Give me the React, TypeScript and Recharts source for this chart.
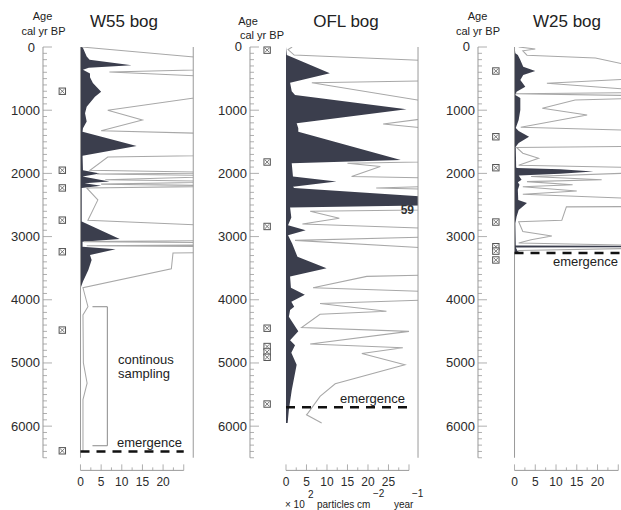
import { Area, ComposedChart, Line, ReferenceDot, ReferenceLine, XAxis, YAxis } from "recharts";

const FONT = "'Liberation Sans', Arial, Helvetica, sans-serif";
const AGE_MAX = 6700; // plot bottom, where the concentration axis sits
const AGE_AXIS_END = 6500;
const AGE_TICKS = Array.from({ length: 66 }, (_, i) => i * 100);
const CONC_TICKS_25 = [0, 2.5, 5, 7.5, 10, 12.5, 15, 17.5, 20, 22.5, 25];
const CONC_TICKS_30 = [...CONC_TICKS_25, 27.5, 30];

type Sample = [number, number]; // [age cal yr BP, x10^2 particles cm-2 yr-1]

// W55 bog
const W55_CHARCOAL: Sample[] = [
  [0, 0.5], [150, 1.5], [200, 2.2], [290, 12.4], [330, 2], [360, 0.6], [420, 2.3], [480, 2.3],
  [570, 3], [707, 5], [786, 3.5], [945, 1.5], [1050, 1.1], [1180, 1.5], [1285, 0.6], [1340, 0.5],
  [1567, 13.6], [1720, 0.5], [1950, 0.6], [2000, 4.7], [2050, 0.5], [2130, 7], [2155, 1], [2195, 5],
  [2230, 0.3], [2760, 0.3], [3040, 9.5], [3080, 0.5], [3160, 0.5], [3200, 8.5], [3290, 2.3],
  [3370, 2.7], [3530, 1.9], [3710, 0.6], [3800, 0.1], [6400, 0.1],
];
const W55_EXAGGERATED: Sample[] = [
  [0, 0.3], [160, 28], [300, 60], [330, 50], [395, 7], [520, 50], [600, 50], [1000, 6.6],
  [1155, 15], [1325, 5], [1400, 50], [1700, 50], [1740, 6.6], [1950, 2.3], [1990, 40], [2010, 4],
  [2040, 40], [2100, 6], [2130, 40], [2170, 5], [2200, 40], [2230, 1.5], [2420, 4.2], [2740, 1.8],
  [2850, 40], [3060, 40], [3080, 0.8], [3100, 40], [3130, 40], [3145, 1.5], [3160, 40], [3250, 40],
  [3260, 22.4], [3510, 22], [3810, 0.6], [4110, 1.8], [4240, 0.6], [5000, 0.7], [5320, 1.6],
  [5580, 0.6], [6400, 0.6],
];
const W55_DATES = [700, 1950, 2230, 2740, 3240, 4480, 6390];
const W55_EMERGENCE = 6400;
const W55_SAMPLING: [number, number, number, number] = [2.9, 6.5, 4110, 6310];

// OFL bog
const OFL_CHARCOAL: Sample[] = [
  [0, 0], [127, 0.2], [417, 10.7], [565, 1], [700, 1.4], [760, 2.2], [986, 29.4], [1208, 2.6],
  [1285, 3], [1340, 3], [1790, 28], [1840, 1.4], [2050, 1.7], [2130, 12.3], [2210, 1.7], [2230, 2],
  [2480, 59], [2540, 1], [2700, 1.3], [2820, 0.5], [2900, 4.8], [2980, 0.5], [3110, 1.5],
  [3320, 2.8], [3500, 9.9], [3630, 1], [3810, 1.2], [3920, 4.6], [4030, 1.3], [4110, 2], [4160, 1],
  [4270, 0.7], [4500, 3], [4640, 1], [4720, 2.2], [4840, 1.3], [5030, 2.6], [5430, 1.4],
  [5740, 0.7], [5950, 0.4],
];
const OFL_EXAGGERATED: Sample[] = [
  [0, 1.5], [40, 0.5], [127, 2], [210, 33], [400, 60], [520, 50], [565, 6.3], [850, 33],
  [1000, 60], [1080, 40], [1220, 23.7], [1320, 40], [1790, 60], [1840, 15], [1890, 23], [2050, 16],
  [2080, 40], [2200, 40], [2230, 22], [2260, 40], [2560, 60], [2600, 5.9], [2710, 13], [2800, 4],
  [2880, 40], [3000, 40], [3060, 2.2], [3200, 40], [3600, 40], [3630, 19.7], [3810, 6.6],
  [3880, 40], [3990, 40], [4060, 8.3], [4180, 24.5], [4230, 8.3], [4440, 3.8], [4500, 30],
  [4700, 5.9], [4760, 28.5], [4850, 18.5], [5030, 29], [5330, 12], [5530, 8.3], [5790, 5.4],
  [5820, 5], [5950, 8.7],
];
const OFL_DATES = [50, 1820, 2840, 4450, 4740, 4825, 4910, 5650];
const OFL_EMERGENCE = 5700;
const OFL_PEAK_LABEL = "59";

// W25 bog
const W25_CHARCOAL: Sample[] = [
  [0, 0], [100, 0.2], [127, 0.8], [206, 1.4], [311, 2.1], [380, 5], [443, 2.1], [522, 1.4],
  [628, 2.6], [707, 0.5], [760, 0.2], [808, 1.4], [997, 1.4], [1155, 1], [1282, 0.3], [1330, 1],
  [1420, 3.5], [1520, 1], [1577, 0.3], [1900, 0.4], [1915, 0.5], [1935, 11], [1972, 19],
  [2005, 11], [2035, 1], [2100, 1.7], [2140, 0.8], [2180, 1.2], [2260, 0.8], [2420, 0.9],
  [2470, 3], [2580, 1], [2685, 0.5], [2790, 0.2], [3140, 0.3], [3150, 40], [3166, 40],
  [3174, 0.3], [3260, 1],
];
const W25_EXAGGERATED: Sample[] = [
  [0, 1], [30, 5], [60, 2], [130, 3], [175, 19.5], [320, 30], [500, 30], [575, 7.8], [680, 30],
  [720, 30], [740, 0.3], [770, 30], [810, 30], [838, 14.6], [970, 6.7], [1076, 17.5], [1270, 1.5],
  [1320, 30], [1570, 30], [1590, 0.5], [1680, 2], [1760, 5.8], [1870, 1], [1910, 30], [1990, 30],
  [2050, 4], [2100, 21], [2130, 3], [2180, 14], [2210, 2], [2280, 15], [2330, 2], [2400, 30],
  [2525, 30], [2530, 12.5], [2740, 11.4], [2765, 1], [2920, 2], [2990, 9], [3050, 4], [3100, 1],
  [3140, 30], [3185, 30], [3220, 1], [3260, 1],
];
const W25_DATES = [380, 1420, 1910, 2770, 3160, 3230, 3370];
const W25_EMERGENCE = 3260;

type PanelCfg = {
  axisX: number;
  xMin: number;
  xMax: number;
  ppu: number;
  concTicks: number[];
  labelMax: number;
  charcoal: Sample[];
  exaggerated: Sample[];
  dates: number[];
  dateX: number;
  emergence: number;
  emergenceEnd: number;
  leftFrame: boolean;
  sampling?: [number, number, number, number];
};

const PANELS: PanelCfg[] = [
  {
    axisX: 43, xMin: -9.08, xMax: 27.3, ppu: 4.13, concTicks: CONC_TICKS_25, labelMax: 20,
    charcoal: W55_CHARCOAL, exaggerated: W55_EXAGGERATED, dates: W55_DATES, dateX: -4.4,
    emergence: W55_EMERGENCE, emergenceEnd: 25, leftFrame: true, sampling: W55_SAMPLING,
  },
  {
    axisX: 250, xMin: -8.78, xMax: 32.2, ppu: 4.1, concTicks: CONC_TICKS_30, labelMax: 25,
    charcoal: OFL_CHARCOAL, exaggerated: OFL_EXAGGERATED, dates: OFL_DATES, dateX: -4.6,
    emergence: OFL_EMERGENCE, emergenceEnd: 31, leftFrame: false,
  },
  {
    axisX: 478, xMin: -8.8, xMax: 27.5, ppu: 4.15, concTicks: CONC_TICKS_25, labelMax: 20,
    charcoal: W25_CHARCOAL, exaggerated: W25_EXAGGERATED, dates: W25_DATES, dateX: -4.5,
    emergence: W25_EMERGENCE, emergenceEnd: 27.5, leftFrame: true,
  },
];

const AXIS_GRAY = "#9a9a9a";

function AgeTick(props: any) {
  const { x, y, payload } = props;
  const v = payload.value as number;
  const major = v % 1000 === 0;
  return (
    <g>
      <line x1={x} x2={x + (major ? 9 : 4)} y1={y} y2={y} stroke={AXIS_GRAY} strokeWidth={0.8} />
      {major && (
        <text x={x - (v === 0 ? 8 : 3)} y={y + 4.5} textAnchor="end" fontSize={13} fontFamily={FONT} fill="#2b2b2b">
          {v}
        </text>
      )}
    </g>
  );
}

function ConcTick(props: any) {
  const { x, y, payload, labelMax } = props;
  const v = payload.value as number;
  const major = v % 5 === 0;
  return (
    <g>
      <line x1={x} x2={x} y1={y} y2={y - (major ? 6 : 3)} stroke={AXIS_GRAY} strokeWidth={0.8} />
      {major && v <= labelMax && (
        <text x={x} y={y + 16} textAnchor="middle" fontSize={12} fontFamily={FONT} fill="#2b2b2b">
          {v}
        </text>
      )}
    </g>
  );
}

function DateMark({ cx, cy }: { cx: number; cy: number }) {
  const s = 3.2;
  return (
    <g>
      <rect x={cx - s} y={cy - s} width={2 * s} height={2 * s} fill="#fff" stroke="#555" strokeWidth={1} />
      <line x1={cx - s + 1} y1={cy - s + 1} x2={cx + s - 1} y2={cy + s - 1} stroke="#666" strokeWidth={0.9} />
      <line x1={cx + s - 1} y1={cy - s + 1} x2={cx - s + 1} y2={cy + s - 1} stroke="#666" strokeWidth={0.9} />
    </g>
  );
}

function Panel({ cfg }: { cfg: PanelCfg }) {
  const plotW = (cfg.xMax - cfg.xMin) * cfg.ppu;
  const width = cfg.axisX + plotW + 12;
  const dark = cfg.charcoal.map(([age, v]) => ({ age, v }));
  const gray = cfg.exaggerated.map(([age, v]) => ({ age, v }));
  const seg = (x1: number, y1: number, x2: number, y2: number) => [
    { x: x1, y: y1 },
    { x: x2, y: y2 },
  ];
  return (
    <div style={{ position: "absolute", left: 0, top: 0 }}>
      <ComposedChart
        layout="vertical"
        width={width}
        height={510}
        margin={{ top: 47, right: 12, bottom: 9.6, left: 0 }}
      >
        <XAxis
          type="number"
          domain={[cfg.xMin, cfg.xMax]}
          allowDataOverflow
          ticks={cfg.concTicks}
          interval={0}
          axisLine={false}
          tickLine={false}
          tickSize={0}
          tickMargin={0}
          height={30}
          tick={(p: any) => <ConcTick {...p} labelMax={cfg.labelMax} />}
        />
        <YAxis
          type="number"
          dataKey="age"
          domain={[0, AGE_MAX]}
          allowDataOverflow
          ticks={AGE_TICKS}
          interval={0}
          width={cfg.axisX}
          axisLine={false}
          tickLine={false}
          tickSize={0}
          tickMargin={0}
          tick={(p: any) => <AgeTick {...p} />}
        />
        <Area
          data={dark}
          dataKey="v"
          type="linear"
          stroke="none"
          fill="#3b3e4d"
          fillOpacity={1}
          baseValue={0}
          isAnimationActive={false}
        />
        <Line
          data={gray}
          dataKey="v"
          type="linear"
          stroke="#a8a8a8"
          strokeWidth={1.05}
          dot={false}
          isAnimationActive={false}
        />
        <ReferenceLine segment={seg(cfg.xMin, 0, cfg.xMin, AGE_AXIS_END)} stroke={AXIS_GRAY} ifOverflow="visible" />
        <ReferenceLine segment={seg(0, AGE_MAX, cfg.concTicks[cfg.concTicks.length - 1], AGE_MAX)} stroke={AXIS_GRAY} ifOverflow="visible" />
        <ReferenceLine segment={seg(cfg.xMax, 0, cfg.xMax, AGE_AXIS_END)} stroke={AXIS_GRAY} ifOverflow="visible" />
        {cfg.leftFrame && (
          <ReferenceLine segment={seg(0, 0, 0, AGE_AXIS_END)} stroke={AXIS_GRAY} ifOverflow="visible" />
        )}
        {cfg.sampling && (
          <ReferenceLine segment={seg(cfg.sampling[0], cfg.sampling[2], cfg.sampling[1], cfg.sampling[2])} stroke="#8a8a8a" ifOverflow="visible" />
        )}
        {cfg.sampling && (
          <ReferenceLine segment={seg(cfg.sampling[1], cfg.sampling[2], cfg.sampling[1], cfg.sampling[3])} stroke="#8a8a8a" ifOverflow="visible" />
        )}
        {cfg.sampling && (
          <ReferenceLine segment={seg(cfg.sampling[0], cfg.sampling[3], cfg.sampling[1], cfg.sampling[3])} stroke="#8a8a8a" ifOverflow="visible" />
        )}
        <ReferenceLine
          segment={seg(0, cfg.emergence, cfg.emergenceEnd, cfg.emergence)}
          stroke="#111"
          strokeWidth={2.6}
          strokeDasharray="9 7"
          ifOverflow="visible"
        />
        {cfg.dates.map((a) => (
          <ReferenceDot
            key={a}
            x={cfg.dateX}
            y={a}
            r={3}
            ifOverflow="visible"
            shape={(p: any) => <DateMark cx={p.cx} cy={p.cy} />}
          />
        ))}
      </ComposedChart>
    </div>
  );
}

const txt = { fontFamily: FONT, fill: "#222" };

export default function App() {
  return (
    <div
      style={{
        position: "absolute",
        left: 0,
        top: 0,
        width: 621,
        height: 510,
        overflow: "hidden",
        background: "#fff",
      }}
    >
      {PANELS.map((cfg, i) => (
        <Panel key={i} cfg={cfg} />
      ))}
      <svg width={621} height={510} style={{ position: "absolute", left: 0, top: 0, pointerEvents: "none" }}>
        <g {...txt} fontSize={17} textAnchor="middle">
          <text x={124} y={27}>W55 bog</text>
          <text x={346} y={27}>OFL bog</text>
          <text x={567} y={27}>W25 bog</text>
        </g>
        <g {...txt} fontSize={11} textAnchor="middle">
          <text x={42.5} y={20}>Age</text>
          <text x={43.5} y={35}>cal yr BP</text>
          <text x={248} y={25}>Age</text>
          <text x={262} y={39}>cal yr BP</text>
          <text x={477.5} y={20}>Age</text>
          <text x={478} y={35}>cal yr BP</text>
        </g>
        <g {...txt} fontSize={13}>
          <text x={117} y={447}>emergence</text>
          <text x={340} y={403}>emergence</text>
          <text x={553} y={266}>emergence</text>
          <text x={118} y={364}>continous</text>
          <text x={118} y={378}>sampling</text>
        </g>
        <text x={414} y={214} textAnchor="end" fontSize={12} fontWeight="bold" {...txt} fill="#333">
          {OFL_PEAK_LABEL}
        </text>
        <g {...txt} fontSize={10}>
          <text x={285} y={508}>× 10</text>
          <text x={308} y={498}>2</text>
          <text x={317} y={508}>particles cm</text>
          <text x={373} y={497}>−2</text>
          <text x={394} y={508}>year</text>
          <text x={412} y={497}>−1</text>
        </g>
      </svg>
    </div>
  );
}
